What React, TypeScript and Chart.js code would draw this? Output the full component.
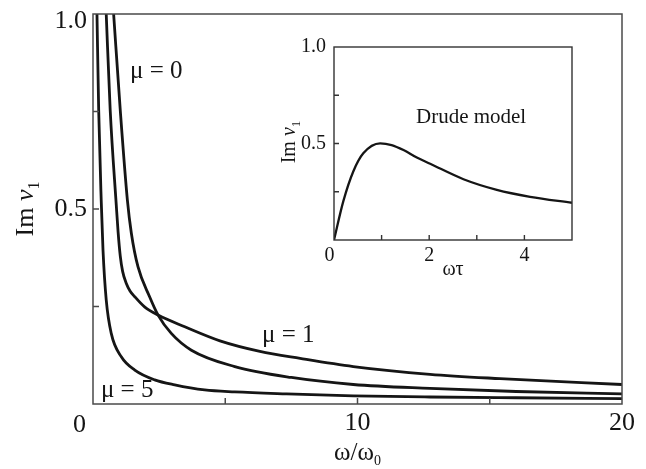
import React, { useEffect, useRef } from 'react';
import { Chart, registerables } from 'chart.js';

Chart.register(...registerables);

const SERIF = '"Liberation Serif", "DejaVu Serif", serif';
const INK = '#151515';

// ---- main panel data (Im v1 vs ω/ω0) ----
const mu0X = [0.78, 1.03, 1.3, 1.45, 1.7, 2.14, 2.46, 2.96, 3.72, 5.36, 7.5, 9.84, 12.74, 16, 20];
const mu0Y = [1.0, 0.754, 0.523, 0.438, 0.352, 0.275, 0.228, 0.181, 0.138, 0.096, 0.068, 0.05, 0.04, 0.032, 0.026];

const mu1X = [0.5, 0.65, 0.88, 0.95, 1.03, 1.12, 1.26, 1.4, 1.58, 1.95, 2.46, 3.47, 4.8, 6.31, 7.83, 9.84, 12.74, 15.39, 20];
const mu1Y = [1.0, 0.754, 0.51, 0.44, 0.38, 0.34, 0.309, 0.29, 0.275, 0.249, 0.228, 0.198, 0.162, 0.135, 0.117, 0.096, 0.076, 0.065, 0.05];

const mu5X = [0.15, 0.215, 0.31, 0.378, 0.5, 0.69, 1.07, 1.58, 2.33, 3.09, 4.22, 5.36, 7.32, 9.84, 12.74, 16, 20];
const mu5Y = [1.0, 0.754, 0.523, 0.395, 0.267, 0.181, 0.121, 0.087, 0.062, 0.049, 0.036, 0.031, 0.026, 0.021, 0.018, 0.016, 0.014];

// ---- inset data (Drude model) ----
const drudeX = [0, 0.195, 0.405, 0.615, 0.97, 1.21, 1.46, 1.74, 2.02, 2.72, 3.42, 4.12, 5.0];
const drudeY = [0, 0.2, 0.355, 0.449, 0.501, 0.492, 0.466, 0.427, 0.395, 0.315, 0.26, 0.224, 0.193];

// ---- ticks ----
const mainXLabelTicks = [10, 20];
const mainYLabelTicks = [0.5];
const mainXMarks = [5, 10, 15];
const mainYMarks = [0.25, 0.5, 0.75];
const insetXLabelTicks = [2, 4];
const insetYLabelTicks = [0.5, 1.0];
const insetXMarks = [1, 2, 3, 4];
const insetYMarks = [0.25, 0.5, 0.75];

const pts = (xs: number[], ys: number[]) => xs.map((x, i) => ({ x, y: ys[i] }));

type Part = { t: string; size: number; italic?: boolean; dy?: number };

function drawRich(ctx: CanvasRenderingContext2D, parts: Part[], x: number, y: number, align: 'left' | 'center') {
  ctx.textBaseline = 'alphabetic';
  ctx.textAlign = 'left';
  ctx.fillStyle = INK;
  const fontOf = (p: Part) => `${p.italic ? 'italic ' : ''}${p.size}px ${SERIF}`;
  let w = 0;
  for (const p of parts) {
    ctx.font = fontOf(p);
    w += ctx.measureText(p.t).width;
  }
  let cx = align === 'center' ? x - w / 2 : x;
  for (const p of parts) {
    ctx.font = fontOf(p);
    ctx.fillText(p.t, cx, y + (p.dy || 0));
    cx += ctx.measureText(p.t).width;
  }
}

function drawFrameAndMarks(chart: any, xs: number[], ys: number[], len: number, color: string, lw: number) {
  const { ctx, chartArea: a, scales } = chart;
  ctx.save();
  ctx.strokeStyle = color;
  ctx.lineWidth = lw;
  ctx.strokeRect(a.left, a.top, a.right - a.left, a.bottom - a.top);
  ctx.beginPath();
  for (const v of xs) {
    const px = scales.x.getPixelForValue(v);
    ctx.moveTo(px, a.bottom);
    ctx.lineTo(px, a.bottom - len);
  }
  for (const v of ys) {
    const py = scales.y.getPixelForValue(v);
    ctx.moveTo(a.left, py);
    ctx.lineTo(a.left + len, py);
  }
  ctx.stroke();
  ctx.restore();
}

const zeroPad = (s: any) => {
  s.paddingTop = 0;
  s.paddingBottom = 0;
  s.paddingLeft = 0;
  s.paddingRight = 0;
};

export default function App() {
  const mainRef = useRef<HTMLCanvasElement>(null);
  const insetRef = useRef<HTMLCanvasElement>(null);

  useEffect(() => {
    document.body.style.margin = '0';
    const lineDs = (label: string, xs: number[], ys: number[], w: number) => ({
      label,
      data: pts(xs, ys),
      borderColor: INK,
      borderWidth: w,
      pointRadius: 0,
      fill: false,
      cubicInterpolationMode: 'monotone' as const,
    });

    const mainDecor = {
      id: 'mainDecor',
      afterDraw(chart: any) {
        const { ctx, chartArea: a, scales } = chart;
        drawFrameAndMarks(chart, mainXMarks, mainYMarks, 6, '#4a4a4a', 1.5);
        ctx.save();
        ctx.fillStyle = INK;
        ctx.font = `26px ${SERIF}`;
        ctx.textAlign = 'right';
        ctx.textBaseline = 'middle';
        ctx.fillText('1.0', a.left - 6, scales.y.getPixelForValue(1.0) + 7.5);
        ctx.textAlign = 'center';
        ctx.fillText('0', a.left - 13.5, a.bottom + 21);
        // curve labels
        drawRich(ctx, [{ t: 'μ = 0', size: 25 }], scales.x.getPixelForValue(1.4), scales.y.getPixelForValue(0.836), 'left');
        drawRich(ctx, [{ t: 'μ = 1', size: 25 }], scales.x.getPixelForValue(6.39), scales.y.getPixelForValue(0.159), 'left');
        drawRich(ctx, [{ t: 'μ = 5', size: 25 }], scales.x.getPixelForValue(0.3), scales.y.getPixelForValue(0.018), 'left');
        // x title
        drawRich(
          ctx,
          [
            { t: 'ω/ω', size: 25 },
            { t: '0', size: 14, dy: 5 },
          ],
          (a.left + a.right) / 2,
          a.bottom + 56,
          'center'
        );
        // y title
        ctx.translate(a.left - 60, (a.top + a.bottom) / 2);
        ctx.rotate(-Math.PI / 2);
        drawRich(
          ctx,
          [
            { t: 'Im ', size: 26 },
            { t: 'v', size: 26, italic: true },
            { t: '1', size: 16, dy: 6 },
          ],
          0,
          0,
          'center'
        );
        ctx.restore();
      },
    };

    const main = new Chart(mainRef.current!, {
      type: 'line',
      data: {
        datasets: [lineDs('μ = 0', mu0X, mu0Y, 2.8), lineDs('μ = 1', mu1X, mu1Y, 2.8), lineDs('μ = 5', mu5X, mu5Y, 2.8)],
      },
      options: {
        responsive: false,
        animation: false,
        events: [],
        devicePixelRatio: 1,
        layout: { padding: { left: 0, top: 14, right: 24, bottom: 0 } },
        plugins: { legend: { display: false }, tooltip: { enabled: false } },
        scales: {
          x: {
            type: 'linear',
            min: 0,
            max: 20,
            grid: { display: false, drawTicks: false },
            border: { display: false },
            afterBuildTicks: (s: any) => {
              s.ticks = mainXLabelTicks.map((v) => ({ value: v }));
            },
            afterFit: (s: any) => {
              s.height = 65;
              zeroPad(s);
            },
            ticks: {
              color: INK,
              font: { family: SERIF, size: 26 },
              padding: 4,
              maxRotation: 0,
              callback: (v: any) => String(v),
            },
          },
          y: {
            type: 'linear',
            min: 0,
            max: 1,
            grid: { display: false, drawTicks: false },
            border: { display: false },
            afterBuildTicks: (s: any) => {
              s.ticks = mainYLabelTicks.map((v) => ({ value: v }));
            },
            afterFit: (s: any) => {
              s.width = 93;
              zeroPad(s);
            },
            ticks: {
              color: INK,
              font: { family: SERIF, size: 26 },
              padding: 6,
              callback: (v: any) => Number(v).toFixed(1),
            },
          },
        },
      },
      plugins: [mainDecor],
    } as any);

    const insetDecor = {
      id: 'insetDecor',
      afterDraw(chart: any) {
        const { ctx, chartArea: a, scales } = chart;
        drawFrameAndMarks(chart, insetXMarks, insetYMarks, 5, '#333', 1.4);
        ctx.save();
        ctx.fillStyle = INK;
        ctx.font = `20px ${SERIF}`;
        ctx.textAlign = 'center';
        ctx.textBaseline = 'middle';
        ctx.fillText('0', a.left - 4.5, a.bottom + 16);
        drawRich(ctx, [{ t: 'Drude model', size: 21 }], scales.x.getPixelForValue(2.88), scales.y.getPixelForValue(0.606), 'center');
        drawRich(ctx, [{ t: 'ωτ', size: 20 }], (a.left + a.right) / 2, a.bottom + 35, 'center');
        ctx.translate(a.left - 39, (a.top + a.bottom) / 2 - 1.5);
        ctx.rotate(-Math.PI / 2);
        drawRich(
          ctx,
          [
            { t: 'Im ', size: 20 },
            { t: 'v', size: 20, italic: true },
            { t: '1', size: 13, dy: 5 },
          ],
          0,
          0,
          'center'
        );
        ctx.restore();
      },
    };

    const inset = new Chart(insetRef.current!, {
      type: 'line',
      data: { datasets: [lineDs('Drude model', drudeX, drudeY, 2.3)] },
      options: {
        responsive: false,
        animation: false,
        events: [],
        devicePixelRatio: 1,
        layout: { padding: { left: 0, top: 17, right: 18, bottom: 0 } },
        plugins: { legend: { display: false }, tooltip: { enabled: false } },
        scales: {
          x: {
            type: 'linear',
            min: 0,
            max: 5,
            grid: { display: false, drawTicks: false },
            border: { display: false },
            afterBuildTicks: (s: any) => {
              s.ticks = insetXLabelTicks.map((v) => ({ value: v }));
            },
            afterFit: (s: any) => {
              s.height = 50;
              zeroPad(s);
            },
            ticks: {
              color: INK,
              font: { family: SERIF, size: 20 },
              padding: 4,
              maxRotation: 0,
              callback: (v: any) => String(v),
            },
          },
          y: {
            type: 'linear',
            min: 0,
            max: 1,
            grid: { display: false, drawTicks: false },
            border: { display: false },
            afterBuildTicks: (s: any) => {
              s.ticks = insetYLabelTicks.map((v) => ({ value: v }));
            },
            afterFit: (s: any) => {
              s.width = 64;
              zeroPad(s);
            },
            ticks: {
              color: INK,
              font: { family: SERIF, size: 20 },
              padding: 8,
              callback: (v: any) => Number(v).toFixed(1),
            },
          },
        },
      },
      plugins: [insetDecor],
    } as any);

    return () => {
      main.destroy();
      inset.destroy();
    };
  }, []);

  return (
    <div style={{ position: 'relative', width: 646, height: 469, background: '#fff' }}>
      <canvas ref={mainRef} width={646} height={469} style={{ position: 'absolute', left: 0, top: 0, display: 'block' }} />
      <canvas ref={insetRef} width={320} height={260} style={{ position: 'absolute', left: 270, top: 30, display: 'block' }} />
    </div>
  );
}
